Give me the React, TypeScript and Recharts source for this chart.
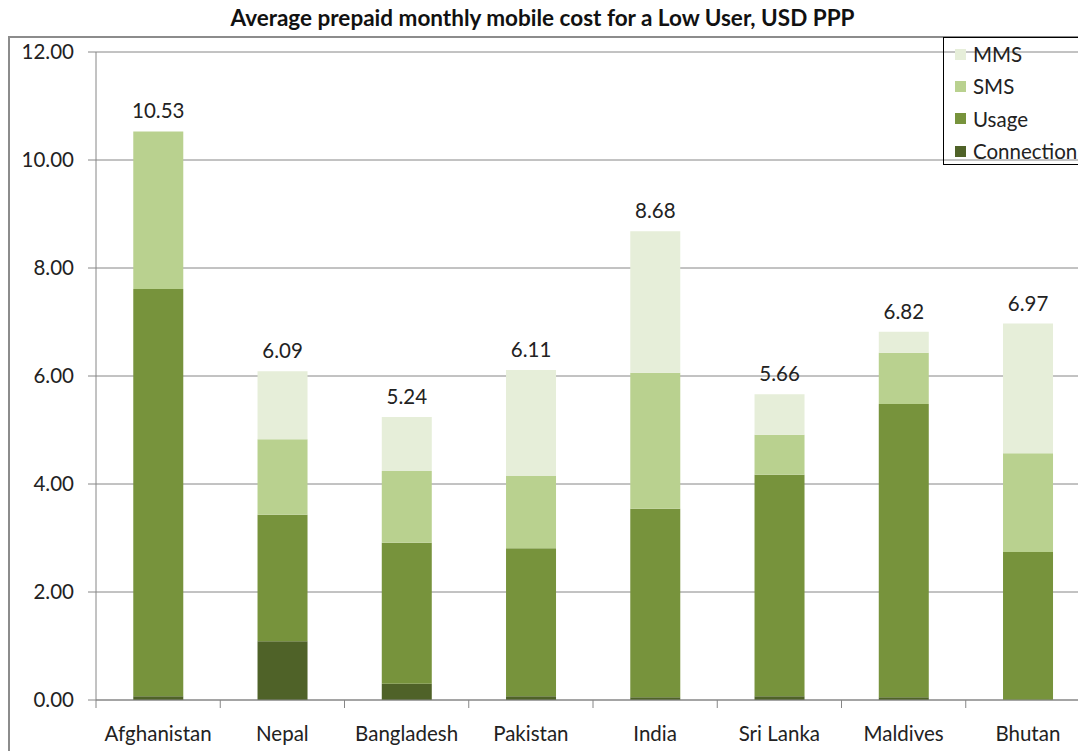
import { BarChart, Bar, XAxis, YAxis, CartesianGrid, LabelList } from 'recharts';

const countries = ['Afghanistan', 'Nepal', 'Bangladesh', 'Pakistan', 'India', 'Sri Lanka', 'Maldives', 'Bhutan'];
const connection = [0.07, 1.09, 0.3, 0.07, 0.05, 0.07, 0.05, 0];
const usage = [7.54, 2.34, 2.61, 2.74, 3.49, 4.1, 5.43, 2.74];
const sms = [2.92, 1.4, 1.33, 1.34, 2.52, 0.74, 0.95, 1.83];
const mms = [0, 1.26, 1.0, 1.96, 2.62, 0.75, 0.39, 2.4];
const totals = [10.53, 6.09, 5.24, 6.11, 8.68, 5.66, 6.82, 6.97];
const yTicks = [0, 2, 4, 6, 8, 10, 12];

const colors = {
  connection: '#4f6228',
  usage: '#77933c',
  sms: '#b9d18f',
  mms: '#e6eed9',
};

const legendItems = [
  { name: 'MMS', color: colors.mms },
  { name: 'SMS', color: colors.sms },
  { name: 'Usage', color: colors.usage },
  { name: 'Connection', color: colors.connection },
];

const data = countries.map((name, i) => ({
  name,
  connection: connection[i],
  usage: usage[i],
  sms: sms[i],
  mms: mms[i],
  total: totals[i],
}));

const FONT = 'Lato, "Open Sans", sans-serif';
const TEXT = '#222';

function CategoryTick(props: any) {
  const { x, y, payload } = props;
  const half = payload?.offset ?? 62;
  return (
    <g>
      <line x1={x - half} x2={x - half} y1={y - 8} y2={y} stroke="#868686" />
      <text x={x} y={y + 33} textAnchor="middle" fontSize={20.5} fill={TEXT} fontFamily={FONT}>
        {payload.value}
      </text>
    </g>
  );
}

// total label drawn on the topmost non-empty segment of each stack
function topLabel(above: number[][]) {
  return (props: any) => {
    const { x, y, width, value } = props;
    const i = countries.indexOf(value);
    if (i < 0) return null;
    if (above.some((arr) => arr[i] > 0)) return null;
    return (
      <text x={x + width / 2} y={y - 13} textAnchor="middle" fontSize={20.5} fill={TEXT} fontFamily={FONT}>
        {totals[i].toFixed(2)}
      </text>
    );
  };
}

function LegendBox() {
  return (
    <div
      style={{
        position: 'absolute',
        left: 943,
        top: 37,
        width: 150,
        height: 128,
        border: '1px solid #000',
        boxSizing: 'border-box',
      }}
    >
      {legendItems.map((item) => (
        <div key={item.name} style={{ display: 'flex', alignItems: 'center', height: 32.3, fontFamily: FONT, fontSize: 20.5, color: TEXT, whiteSpace: 'nowrap' }}>
          <span style={{ display: 'inline-block', width: 11, height: 11, background: item.color, marginLeft: 11, marginRight: 7, flexShrink: 0 }} />
          {item.name}
        </div>
      ))}
    </div>
  );
}

export default function App() {
  return (
    <div style={{ position: 'absolute', left: 0, top: 0, width: 1078, height: 751, overflow: 'hidden', background: '#fff' }}>
      <div
        style={{
          position: 'absolute',
          left: 0,
          top: 4,
          width: 1085,
          textAlign: 'center',
          fontFamily: FONT,
          fontWeight: 700,
          fontSize: 22.5,
          color: '#111',
          whiteSpace: 'nowrap',
        }}
      >
        Average prepaid monthly mobile cost for a Low User, USD PPP
      </div>
      <div
        style={{
          position: 'absolute',
          left: 8,
          top: 36,
          width: 1200,
          height: 800,
          borderTop: '2px solid #8c8c8c',
          borderLeft: '2px solid #8c8c8c',
        }}
      />
      <div style={{ position: 'absolute', left: 0, top: 0 }}>
        <BarChart
          width={1100}
          height={751}
          data={data}
          margin={{ top: 52, right: 10, left: 0, bottom: 0 }}
          barCategoryGap="30%"
        >
          <CartesianGrid vertical={false} stroke="#868686" />
          <XAxis
            dataKey="name"
            height={51}
            axisLine={{ stroke: '#868686' }}
            tickLine={false}
            tick={<CategoryTick />}
            interval={0}
          />
          <YAxis
            width={96}
            domain={[0, 12]}
            ticks={yTicks}
            tickFormatter={(v: number) => v.toFixed(2)}
            axisLine={{ stroke: '#868686' }}
            tickLine={{ stroke: '#868686' }}
            tickSize={8}
            tickMargin={14}
            tick={{ fontSize: 20.5, fill: TEXT, fontFamily: FONT }}
          />
          <Bar dataKey="connection" stackId="a" fill={colors.connection} isAnimationActive={false} />
          <Bar dataKey="usage" stackId="a" fill={colors.usage} isAnimationActive={false} />
          <Bar dataKey="sms" stackId="a" fill={colors.sms} isAnimationActive={false}>
            <LabelList dataKey="name" content={topLabel([mms])} />
          </Bar>
          <Bar dataKey="mms" stackId="a" fill={colors.mms} isAnimationActive={false}>
            <LabelList dataKey="name" content={topLabel([])} />
          </Bar>
        </BarChart>
      </div>
      <LegendBox />
    </div>
  );
}
